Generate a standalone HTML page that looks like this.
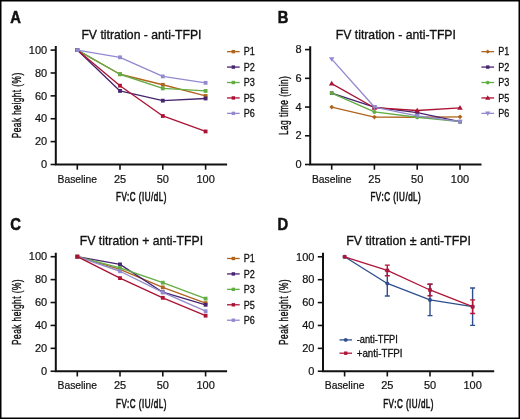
<!DOCTYPE html>
<html><head><meta charset="utf-8"><style>
html,body{margin:0;padding:0;background:#fff;}
svg{display:block;font-family:"Liberation Sans", sans-serif;will-change:transform;}
text{fill:#111;}
</style></head><body>
<svg width="520" height="420" viewBox="0 0 520 420">
<rect x="0" y="0" width="520" height="420" fill="#fff"/>
<rect x="0.75" y="0.75" width="518.5" height="417.5" fill="none" stroke="#000" stroke-width="1.5"/>
<text transform="translate(10.20,23.00) scale(0.94,1)" font-size="15.7" text-anchor="start" font-weight="bold" stroke="#111" stroke-width="0.5">A</text>
<text transform="translate(141.45,38.60) scale(0.94,1)" font-size="13" text-anchor="middle" font-weight="normal" stroke="#111" stroke-width="0.35">FV titration - anti-TFPI</text>
<path d="M55.8 46.1V165.5M54.8 164.5H227.1" stroke="#111" stroke-width="2.0" fill="none"/>
<path d="M50.60 164.50H55.8" stroke="#111" stroke-width="1.6"/>
<text x="47.20" y="168.20" font-size="11" text-anchor="end" font-weight="normal" stroke="#111" stroke-width="0.2">0</text>
<path d="M50.60 141.62H55.8" stroke="#111" stroke-width="1.6"/>
<text x="47.20" y="145.32" font-size="11" text-anchor="end" font-weight="normal" stroke="#111" stroke-width="0.2">20</text>
<path d="M50.60 118.74H55.8" stroke="#111" stroke-width="1.6"/>
<text x="47.20" y="122.44" font-size="11" text-anchor="end" font-weight="normal" stroke="#111" stroke-width="0.2">40</text>
<path d="M50.60 95.86H55.8" stroke="#111" stroke-width="1.6"/>
<text x="47.20" y="99.56" font-size="11" text-anchor="end" font-weight="normal" stroke="#111" stroke-width="0.2">60</text>
<path d="M50.60 72.98H55.8" stroke="#111" stroke-width="1.6"/>
<text x="47.20" y="76.68" font-size="11" text-anchor="end" font-weight="normal" stroke="#111" stroke-width="0.2">80</text>
<path d="M50.60 50.10H55.8" stroke="#111" stroke-width="1.6"/>
<text x="47.20" y="53.80" font-size="11" text-anchor="end" font-weight="normal" stroke="#111" stroke-width="0.2">100</text>
<path d="M77.30 164.5V169.70" stroke="#111" stroke-width="1.6"/>
<text transform="translate(77.30,182.50) scale(0.94,1)" font-size="11" text-anchor="middle" font-weight="normal" stroke="#111" stroke-width="0.2">Baseline</text>
<path d="M120.00 164.5V169.70" stroke="#111" stroke-width="1.6"/>
<text x="120.00" y="182.50" font-size="11" text-anchor="middle" font-weight="normal" stroke="#111" stroke-width="0.2">25</text>
<path d="M162.80 164.5V169.70" stroke="#111" stroke-width="1.6"/>
<text x="162.80" y="182.50" font-size="11" text-anchor="middle" font-weight="normal" stroke="#111" stroke-width="0.2">50</text>
<path d="M205.60 164.5V169.70" stroke="#111" stroke-width="1.6"/>
<text x="205.60" y="182.50" font-size="11" text-anchor="middle" font-weight="normal" stroke="#111" stroke-width="0.2">100</text>
<text transform="translate(141.45,200.50) scale(0.62,1)" font-size="13" letter-spacing="0.8" text-anchor="middle" stroke="#111" stroke-width="0.65">FV:C (IU/dL)</text>
<text transform="translate(21.00,105.30) rotate(-90) scale(0.64,1)" font-size="13" letter-spacing="0.7" text-anchor="middle" stroke="#111" stroke-width="0.4">Peak height (%)</text>
<polyline points="77.30,50.10 120.00,74.24 162.80,84.76 205.60,95.97" fill="none" stroke="#b0641e" stroke-width="1.35" stroke-linejoin="round"/>
<rect x="75.40" y="48.20" width="3.8" height="3.8" fill="#b0641e"/>
<rect x="118.10" y="72.34" width="3.8" height="3.8" fill="#b0641e"/>
<rect x="160.90" y="82.86" width="3.8" height="3.8" fill="#b0641e"/>
<rect x="203.70" y="94.07" width="3.8" height="3.8" fill="#b0641e"/>
<polyline points="77.30,50.10 120.00,90.94 162.80,100.66 205.60,98.49" fill="none" stroke="#46246e" stroke-width="1.35" stroke-linejoin="round"/>
<rect x="75.40" y="48.20" width="3.8" height="3.8" fill="#46246e"/>
<rect x="118.10" y="89.04" width="3.8" height="3.8" fill="#46246e"/>
<rect x="160.90" y="98.76" width="3.8" height="3.8" fill="#46246e"/>
<rect x="203.70" y="96.59" width="3.8" height="3.8" fill="#46246e"/>
<polyline points="77.30,50.10 120.00,74.24 162.80,88.42 205.60,90.94" fill="none" stroke="#62ae44" stroke-width="1.35" stroke-linejoin="round"/>
<rect x="75.40" y="48.20" width="3.8" height="3.8" fill="#62ae44"/>
<rect x="118.10" y="72.34" width="3.8" height="3.8" fill="#62ae44"/>
<rect x="160.90" y="86.52" width="3.8" height="3.8" fill="#62ae44"/>
<rect x="203.70" y="89.04" width="3.8" height="3.8" fill="#62ae44"/>
<polyline points="77.30,50.10 120.00,85.68 162.80,115.99 205.60,131.44" fill="none" stroke="#ab1335" stroke-width="1.35" stroke-linejoin="round"/>
<rect x="75.40" y="48.20" width="3.8" height="3.8" fill="#ab1335"/>
<rect x="118.10" y="83.78" width="3.8" height="3.8" fill="#ab1335"/>
<rect x="160.90" y="114.09" width="3.8" height="3.8" fill="#ab1335"/>
<rect x="203.70" y="129.54" width="3.8" height="3.8" fill="#ab1335"/>
<polyline points="77.30,50.10 120.00,57.31 162.80,76.41 205.60,82.82" fill="none" stroke="#928acf" stroke-width="1.35" stroke-linejoin="round"/>
<rect x="75.40" y="48.20" width="3.8" height="3.8" fill="#928acf"/>
<rect x="118.10" y="55.41" width="3.8" height="3.8" fill="#928acf"/>
<rect x="160.90" y="74.51" width="3.8" height="3.8" fill="#928acf"/>
<rect x="203.70" y="80.92" width="3.8" height="3.8" fill="#928acf"/>
<path d="M227 51.65H239.7" stroke="#b0641e" stroke-width="1.3"/>
<rect x="231.65" y="49.95" width="3.4" height="3.4" fill="#b0641e"/>
<text transform="translate(243.80,55.45) scale(0.88,1)" font-size="10.3" text-anchor="start" font-weight="normal" stroke="#111" stroke-width="0.3">P1</text>
<path d="M227 67.08H239.7" stroke="#46246e" stroke-width="1.3"/>
<rect x="231.65" y="65.38" width="3.4" height="3.4" fill="#46246e"/>
<text transform="translate(243.80,70.88) scale(0.88,1)" font-size="10.3" text-anchor="start" font-weight="normal" stroke="#111" stroke-width="0.3">P2</text>
<path d="M227 82.51H239.7" stroke="#62ae44" stroke-width="1.3"/>
<rect x="231.65" y="80.81" width="3.4" height="3.4" fill="#62ae44"/>
<text transform="translate(243.80,86.31) scale(0.88,1)" font-size="10.3" text-anchor="start" font-weight="normal" stroke="#111" stroke-width="0.3">P3</text>
<path d="M227 97.94H239.7" stroke="#ab1335" stroke-width="1.3"/>
<rect x="231.65" y="96.24" width="3.4" height="3.4" fill="#ab1335"/>
<text transform="translate(243.80,101.74) scale(0.88,1)" font-size="10.3" text-anchor="start" font-weight="normal" stroke="#111" stroke-width="0.3">P5</text>
<path d="M227 113.37H239.7" stroke="#928acf" stroke-width="1.3"/>
<rect x="231.65" y="111.67" width="3.4" height="3.4" fill="#928acf"/>
<text transform="translate(243.80,117.17) scale(0.88,1)" font-size="10.3" text-anchor="start" font-weight="normal" stroke="#111" stroke-width="0.3">P6</text>
<text transform="translate(277.70,23.20) scale(0.94,1)" font-size="15.7" text-anchor="start" font-weight="bold" stroke="#111" stroke-width="0.5">B</text>
<text transform="translate(395.85,38.60) scale(0.94,1)" font-size="13" text-anchor="middle" font-weight="normal" stroke="#111" stroke-width="0.35">FV titration - anti-TFPI</text>
<path d="M310.2 46.25V165.5M309.2 164.5H481.5" stroke="#111" stroke-width="2.0" fill="none"/>
<path d="M305.00 164.50H310.2" stroke="#111" stroke-width="1.6"/>
<text x="301.60" y="168.20" font-size="11" text-anchor="end" font-weight="normal" stroke="#111" stroke-width="0.2">0</text>
<path d="M305.00 135.78H310.2" stroke="#111" stroke-width="1.6"/>
<text x="301.60" y="139.47" font-size="11" text-anchor="end" font-weight="normal" stroke="#111" stroke-width="0.2">2</text>
<path d="M305.00 107.05H310.2" stroke="#111" stroke-width="1.6"/>
<text x="301.60" y="110.75" font-size="11" text-anchor="end" font-weight="normal" stroke="#111" stroke-width="0.2">4</text>
<path d="M305.00 78.32H310.2" stroke="#111" stroke-width="1.6"/>
<text x="301.60" y="82.02" font-size="11" text-anchor="end" font-weight="normal" stroke="#111" stroke-width="0.2">6</text>
<path d="M305.00 49.60H310.2" stroke="#111" stroke-width="1.6"/>
<text x="301.60" y="53.30" font-size="11" text-anchor="end" font-weight="normal" stroke="#111" stroke-width="0.2">8</text>
<path d="M331.70 164.5V169.70" stroke="#111" stroke-width="1.6"/>
<text transform="translate(331.70,182.50) scale(0.94,1)" font-size="11" text-anchor="middle" font-weight="normal" stroke="#111" stroke-width="0.2">Baseline</text>
<path d="M374.40 164.5V169.70" stroke="#111" stroke-width="1.6"/>
<text x="374.40" y="182.50" font-size="11" text-anchor="middle" font-weight="normal" stroke="#111" stroke-width="0.2">25</text>
<path d="M417.20 164.5V169.70" stroke="#111" stroke-width="1.6"/>
<text x="417.20" y="182.50" font-size="11" text-anchor="middle" font-weight="normal" stroke="#111" stroke-width="0.2">50</text>
<path d="M460.00 164.5V169.70" stroke="#111" stroke-width="1.6"/>
<text x="460.00" y="182.50" font-size="11" text-anchor="middle" font-weight="normal" stroke="#111" stroke-width="0.2">100</text>
<text transform="translate(395.85,200.50) scale(0.62,1)" font-size="13" letter-spacing="0.8" text-anchor="middle" stroke="#111" stroke-width="0.65">FV:C (IU/dL)</text>
<text transform="translate(288.00,105.38) rotate(-90) scale(0.64,1)" font-size="13" letter-spacing="0.7" text-anchor="middle" stroke="#111" stroke-width="0.4">Lag time (min)</text>
<polyline points="331.70,107.05 374.40,117.10 417.20,117.25 460.00,116.82" fill="none" stroke="#b0641e" stroke-width="1.35" stroke-linejoin="round"/>
<path d="M331.70 104.71L334.04 107.05L331.70 109.39L329.36 107.05Z" fill="#b0641e"/>
<path d="M374.40 114.76L376.74 117.10L374.40 119.44L372.06 117.10Z" fill="#b0641e"/>
<path d="M417.20 114.91L419.54 117.25L417.20 119.59L414.86 117.25Z" fill="#b0641e"/>
<path d="M460.00 114.48L462.34 116.82L460.00 119.16L457.66 116.82Z" fill="#b0641e"/>
<polyline points="331.70,93.12 374.40,107.05 417.20,112.65 460.00,121.70" fill="none" stroke="#46246e" stroke-width="1.35" stroke-linejoin="round"/>
<rect x="329.90" y="91.32" width="3.6" height="3.6" fill="#46246e"/>
<rect x="372.60" y="105.25" width="3.6" height="3.6" fill="#46246e"/>
<rect x="415.40" y="110.85" width="3.6" height="3.6" fill="#46246e"/>
<rect x="458.20" y="119.90" width="3.6" height="3.6" fill="#46246e"/>
<polyline points="331.70,93.12 374.40,111.93 417.20,117.25 460.00,121.70" fill="none" stroke="#62ae44" stroke-width="1.35" stroke-linejoin="round"/>
<circle cx="331.70" cy="93.12" r="1.98" fill="#62ae44"/>
<circle cx="374.40" cy="111.93" r="1.98" fill="#62ae44"/>
<circle cx="417.20" cy="117.25" r="1.98" fill="#62ae44"/>
<circle cx="460.00" cy="121.70" r="1.98" fill="#62ae44"/>
<polyline points="331.70,83.64 374.40,107.77 417.20,110.50 460.00,107.91" fill="none" stroke="#ab1335" stroke-width="1.35" stroke-linejoin="round"/>
<path d="M331.70 80.85L334.49 85.59L328.91 85.59Z" fill="#ab1335"/>
<path d="M374.40 104.98L377.19 109.72L371.61 109.72Z" fill="#ab1335"/>
<path d="M417.20 107.71L419.99 112.45L414.41 112.45Z" fill="#ab1335"/>
<path d="M460.00 105.12L462.79 109.86L457.21 109.86Z" fill="#ab1335"/>
<polyline points="331.70,59.08 374.40,107.05 417.20,115.81 460.00,121.70" fill="none" stroke="#928acf" stroke-width="1.35" stroke-linejoin="round"/>
<path d="M331.70 61.87L334.49 57.13L328.91 57.13Z" fill="#928acf"/>
<path d="M374.40 109.84L377.19 105.10L371.61 105.10Z" fill="#928acf"/>
<path d="M417.20 118.60L419.99 113.86L414.41 113.86Z" fill="#928acf"/>
<path d="M460.00 124.49L462.79 119.75L457.21 119.75Z" fill="#928acf"/>
<path d="M481.4 51.65H494.1" stroke="#b0641e" stroke-width="1.3"/>
<path d="M487.75 49.44L489.96 51.65L487.75 53.86L485.54 51.65Z" fill="#b0641e"/>
<text transform="translate(498.20,55.45) scale(0.88,1)" font-size="10.3" text-anchor="start" font-weight="normal" stroke="#111" stroke-width="0.3">P1</text>
<path d="M481.4 67.08H494.1" stroke="#46246e" stroke-width="1.3"/>
<rect x="486.05" y="65.38" width="3.4" height="3.4" fill="#46246e"/>
<text transform="translate(498.20,70.88) scale(0.88,1)" font-size="10.3" text-anchor="start" font-weight="normal" stroke="#111" stroke-width="0.3">P2</text>
<path d="M481.4 82.51H494.1" stroke="#62ae44" stroke-width="1.3"/>
<circle cx="487.75" cy="82.51" r="1.87" fill="#62ae44"/>
<text transform="translate(498.20,86.31) scale(0.88,1)" font-size="10.3" text-anchor="start" font-weight="normal" stroke="#111" stroke-width="0.3">P3</text>
<path d="M481.4 97.94H494.1" stroke="#ab1335" stroke-width="1.3"/>
<path d="M487.75 95.30L490.38 99.78L485.12 99.78Z" fill="#ab1335"/>
<text transform="translate(498.20,101.74) scale(0.88,1)" font-size="10.3" text-anchor="start" font-weight="normal" stroke="#111" stroke-width="0.3">P5</text>
<path d="M481.4 113.37H494.1" stroke="#928acf" stroke-width="1.3"/>
<path d="M487.75 116.01L490.38 111.53L485.12 111.53Z" fill="#928acf"/>
<text transform="translate(498.20,117.17) scale(0.88,1)" font-size="10.3" text-anchor="start" font-weight="normal" stroke="#111" stroke-width="0.3">P6</text>
<text transform="translate(10.20,230.00) scale(0.94,1)" font-size="15.7" text-anchor="start" font-weight="bold" stroke="#111" stroke-width="0.5">C</text>
<text transform="translate(141.45,245.40) scale(0.94,1)" font-size="13" text-anchor="middle" font-weight="normal" stroke="#111" stroke-width="0.35">FV titration + anti-TFPI</text>
<path d="M55.8 252.7V372.25M54.8 371.25H227.1" stroke="#111" stroke-width="2.0" fill="none"/>
<path d="M50.60 371.25H55.8" stroke="#111" stroke-width="1.6"/>
<text x="47.20" y="374.95" font-size="11" text-anchor="end" font-weight="normal" stroke="#111" stroke-width="0.2">0</text>
<path d="M50.60 348.34H55.8" stroke="#111" stroke-width="1.6"/>
<text x="47.20" y="352.04" font-size="11" text-anchor="end" font-weight="normal" stroke="#111" stroke-width="0.2">20</text>
<path d="M50.60 325.43H55.8" stroke="#111" stroke-width="1.6"/>
<text x="47.20" y="329.13" font-size="11" text-anchor="end" font-weight="normal" stroke="#111" stroke-width="0.2">40</text>
<path d="M50.60 302.52H55.8" stroke="#111" stroke-width="1.6"/>
<text x="47.20" y="306.22" font-size="11" text-anchor="end" font-weight="normal" stroke="#111" stroke-width="0.2">60</text>
<path d="M50.60 279.61H55.8" stroke="#111" stroke-width="1.6"/>
<text x="47.20" y="283.31" font-size="11" text-anchor="end" font-weight="normal" stroke="#111" stroke-width="0.2">80</text>
<path d="M50.60 256.70H55.8" stroke="#111" stroke-width="1.6"/>
<text x="47.20" y="260.40" font-size="11" text-anchor="end" font-weight="normal" stroke="#111" stroke-width="0.2">100</text>
<path d="M77.30 371.25V376.45" stroke="#111" stroke-width="1.6"/>
<text transform="translate(77.30,389.25) scale(0.94,1)" font-size="11" text-anchor="middle" font-weight="normal" stroke="#111" stroke-width="0.2">Baseline</text>
<path d="M120.00 371.25V376.45" stroke="#111" stroke-width="1.6"/>
<text x="120.00" y="389.25" font-size="11" text-anchor="middle" font-weight="normal" stroke="#111" stroke-width="0.2">25</text>
<path d="M162.80 371.25V376.45" stroke="#111" stroke-width="1.6"/>
<text x="162.80" y="389.25" font-size="11" text-anchor="middle" font-weight="normal" stroke="#111" stroke-width="0.2">50</text>
<path d="M205.60 371.25V376.45" stroke="#111" stroke-width="1.6"/>
<text x="205.60" y="389.25" font-size="11" text-anchor="middle" font-weight="normal" stroke="#111" stroke-width="0.2">100</text>
<text transform="translate(141.45,407.50) scale(0.62,1)" font-size="13" letter-spacing="0.8" text-anchor="middle" stroke="#111" stroke-width="0.65">FV:C (IU/dL)</text>
<text transform="translate(21.00,311.98) rotate(-90) scale(0.64,1)" font-size="13" letter-spacing="0.7" text-anchor="middle" stroke="#111" stroke-width="0.4">Peak height (%)</text>
<polyline points="77.30,256.70 120.00,269.42 162.80,287.40 205.60,303.09" fill="none" stroke="#b0641e" stroke-width="1.35" stroke-linejoin="round"/>
<rect x="75.40" y="254.80" width="3.8" height="3.8" fill="#b0641e"/>
<rect x="118.10" y="267.52" width="3.8" height="3.8" fill="#b0641e"/>
<rect x="160.90" y="285.50" width="3.8" height="3.8" fill="#b0641e"/>
<rect x="203.70" y="301.19" width="3.8" height="3.8" fill="#b0641e"/>
<polyline points="77.30,256.70 120.00,264.37 162.80,292.21 205.60,304.81" fill="none" stroke="#46246e" stroke-width="1.35" stroke-linejoin="round"/>
<rect x="75.40" y="254.80" width="3.8" height="3.8" fill="#46246e"/>
<rect x="118.10" y="262.47" width="3.8" height="3.8" fill="#46246e"/>
<rect x="160.90" y="290.31" width="3.8" height="3.8" fill="#46246e"/>
<rect x="203.70" y="302.91" width="3.8" height="3.8" fill="#46246e"/>
<polyline points="77.30,256.70 120.00,267.81 162.80,282.70 205.60,298.63" fill="none" stroke="#62ae44" stroke-width="1.35" stroke-linejoin="round"/>
<rect x="75.40" y="254.80" width="3.8" height="3.8" fill="#62ae44"/>
<rect x="118.10" y="265.91" width="3.8" height="3.8" fill="#62ae44"/>
<rect x="160.90" y="280.80" width="3.8" height="3.8" fill="#62ae44"/>
<rect x="203.70" y="296.73" width="3.8" height="3.8" fill="#62ae44"/>
<polyline points="77.30,256.70 120.00,271.25 162.80,292.44 205.60,311.23" fill="none" stroke="#928acf" stroke-width="1.35" stroke-linejoin="round"/>
<rect x="75.40" y="254.80" width="3.8" height="3.8" fill="#928acf"/>
<rect x="118.10" y="269.35" width="3.8" height="3.8" fill="#928acf"/>
<rect x="160.90" y="290.54" width="3.8" height="3.8" fill="#928acf"/>
<rect x="203.70" y="309.33" width="3.8" height="3.8" fill="#928acf"/>
<polyline points="77.30,256.70 120.00,278.12 162.80,297.82 205.60,315.69" fill="none" stroke="#ab1335" stroke-width="1.35" stroke-linejoin="round"/>
<rect x="75.40" y="254.80" width="3.8" height="3.8" fill="#ab1335"/>
<rect x="118.10" y="276.22" width="3.8" height="3.8" fill="#ab1335"/>
<rect x="160.90" y="295.92" width="3.8" height="3.8" fill="#ab1335"/>
<rect x="203.70" y="313.79" width="3.8" height="3.8" fill="#ab1335"/>
<path d="M227 258.50H239.7" stroke="#b0641e" stroke-width="1.3"/>
<rect x="231.65" y="256.80" width="3.4" height="3.4" fill="#b0641e"/>
<text transform="translate(243.80,262.30) scale(0.88,1)" font-size="10.3" text-anchor="start" font-weight="normal" stroke="#111" stroke-width="0.3">P1</text>
<path d="M227 273.93H239.7" stroke="#46246e" stroke-width="1.3"/>
<rect x="231.65" y="272.23" width="3.4" height="3.4" fill="#46246e"/>
<text transform="translate(243.80,277.73) scale(0.88,1)" font-size="10.3" text-anchor="start" font-weight="normal" stroke="#111" stroke-width="0.3">P2</text>
<path d="M227 289.36H239.7" stroke="#62ae44" stroke-width="1.3"/>
<rect x="231.65" y="287.66" width="3.4" height="3.4" fill="#62ae44"/>
<text transform="translate(243.80,293.16) scale(0.88,1)" font-size="10.3" text-anchor="start" font-weight="normal" stroke="#111" stroke-width="0.3">P3</text>
<path d="M227 304.79H239.7" stroke="#ab1335" stroke-width="1.3"/>
<rect x="231.65" y="303.09" width="3.4" height="3.4" fill="#ab1335"/>
<text transform="translate(243.80,308.59) scale(0.88,1)" font-size="10.3" text-anchor="start" font-weight="normal" stroke="#111" stroke-width="0.3">P5</text>
<path d="M227 320.22H239.7" stroke="#928acf" stroke-width="1.3"/>
<rect x="231.65" y="318.52" width="3.4" height="3.4" fill="#928acf"/>
<text transform="translate(243.80,324.02) scale(0.88,1)" font-size="10.3" text-anchor="start" font-weight="normal" stroke="#111" stroke-width="0.3">P6</text>
<text transform="translate(277.40,230.00) scale(0.94,1)" font-size="15.7" text-anchor="start" font-weight="bold" stroke="#111" stroke-width="0.5">D</text>
<text transform="translate(408.60,245.40) scale(0.955,1)" font-size="13" text-anchor="middle" font-weight="normal" stroke="#111" stroke-width="0.35">FV titration ± anti-TFPI</text>
<path d="M323.0 252.7V372.25M322.0 371.25H494.2" stroke="#111" stroke-width="2.0" fill="none"/>
<path d="M317.80 371.25H323.0" stroke="#111" stroke-width="1.6"/>
<text x="314.40" y="374.95" font-size="11" text-anchor="end" font-weight="normal" stroke="#111" stroke-width="0.2">0</text>
<path d="M317.80 348.36H323.0" stroke="#111" stroke-width="1.6"/>
<text x="314.40" y="352.06" font-size="11" text-anchor="end" font-weight="normal" stroke="#111" stroke-width="0.2">20</text>
<path d="M317.80 325.47H323.0" stroke="#111" stroke-width="1.6"/>
<text x="314.40" y="329.17" font-size="11" text-anchor="end" font-weight="normal" stroke="#111" stroke-width="0.2">40</text>
<path d="M317.80 302.58H323.0" stroke="#111" stroke-width="1.6"/>
<text x="314.40" y="306.28" font-size="11" text-anchor="end" font-weight="normal" stroke="#111" stroke-width="0.2">60</text>
<path d="M317.80 279.69H323.0" stroke="#111" stroke-width="1.6"/>
<text x="314.40" y="283.39" font-size="11" text-anchor="end" font-weight="normal" stroke="#111" stroke-width="0.2">80</text>
<path d="M317.80 256.80H323.0" stroke="#111" stroke-width="1.6"/>
<text x="314.40" y="260.50" font-size="11" text-anchor="end" font-weight="normal" stroke="#111" stroke-width="0.2">100</text>
<path d="M344.60 371.25V376.45" stroke="#111" stroke-width="1.6"/>
<text transform="translate(344.60,389.25) scale(0.94,1)" font-size="11" text-anchor="middle" font-weight="normal" stroke="#111" stroke-width="0.2">Baseline</text>
<path d="M387.30 371.25V376.45" stroke="#111" stroke-width="1.6"/>
<text x="387.30" y="389.25" font-size="11" text-anchor="middle" font-weight="normal" stroke="#111" stroke-width="0.2">25</text>
<path d="M430.00 371.25V376.45" stroke="#111" stroke-width="1.6"/>
<text x="430.00" y="389.25" font-size="11" text-anchor="middle" font-weight="normal" stroke="#111" stroke-width="0.2">50</text>
<path d="M472.60 371.25V376.45" stroke="#111" stroke-width="1.6"/>
<text x="472.60" y="389.25" font-size="11" text-anchor="middle" font-weight="normal" stroke="#111" stroke-width="0.2">100</text>
<text transform="translate(408.60,407.50) scale(0.62,1)" font-size="13" letter-spacing="0.8" text-anchor="middle" stroke="#111" stroke-width="0.65">FV:C (IU/dL)</text>
<text transform="translate(288.40,311.98) rotate(-90) scale(0.64,1)" font-size="13" letter-spacing="0.7" text-anchor="middle" stroke="#111" stroke-width="0.4">Peak height (%)</text>
<path d="M387.30 270.88V296.06M384.80 270.88H389.80M384.80 296.06H389.80" stroke="#2e4e8e" stroke-width="1.4" fill="none"/>
<path d="M430.00 284.27V315.63M427.50 284.27H432.50M427.50 315.63H432.50" stroke="#2e4e8e" stroke-width="1.4" fill="none"/>
<path d="M472.60 288.04V325.36M470.10 288.04H475.10M470.10 325.36H475.10" stroke="#2e4e8e" stroke-width="1.4" fill="none"/>
<polyline points="344.60,256.80 387.30,283.47 430.00,299.95 472.60,306.70" fill="none" stroke="#2e4e8e" stroke-width="1.35" stroke-linejoin="round"/>
<circle cx="344.60" cy="256.80" r="1.98" fill="#2e4e8e"/>
<circle cx="387.30" cy="283.47" r="1.98" fill="#2e4e8e"/>
<circle cx="430.00" cy="299.95" r="1.98" fill="#2e4e8e"/>
<circle cx="472.60" cy="306.70" r="1.98" fill="#2e4e8e"/>
<path d="M387.30 265.15V275.68M384.80 265.15H389.80M384.80 275.68H389.80" stroke="#ae1538" stroke-width="1.4" fill="none"/>
<path d="M430.00 284.27V295.71M427.50 284.27H432.50M427.50 295.71H432.50" stroke="#ae1538" stroke-width="1.4" fill="none"/>
<path d="M472.60 299.83V313.57M470.10 299.83H475.10M470.10 313.57H475.10" stroke="#ae1538" stroke-width="1.4" fill="none"/>
<polyline points="344.60,256.80 387.30,270.42 430.00,289.99 472.60,306.70" fill="none" stroke="#ae1538" stroke-width="1.35" stroke-linejoin="round"/>
<rect x="342.80" y="255.00" width="3.6" height="3.6" fill="#ae1538"/>
<rect x="385.50" y="268.62" width="3.6" height="3.6" fill="#ae1538"/>
<rect x="428.20" y="288.19" width="3.6" height="3.6" fill="#ae1538"/>
<rect x="470.80" y="304.90" width="3.6" height="3.6" fill="#ae1538"/>
<path d="M339.5 339.90H352" stroke="#2e4e8e" stroke-width="1.3"/>
<circle cx="345.75" cy="339.90" r="1.87" fill="#2e4e8e"/>
<text transform="translate(356.70,343.30) scale(0.9,1)" font-size="10.3" text-anchor="start" font-weight="normal" stroke="#111" stroke-width="0.3">-anti-TFPI</text>
<path d="M339.5 353.20H352" stroke="#ae1538" stroke-width="1.3"/>
<rect x="344.05" y="351.50" width="3.4" height="3.4" fill="#ae1538"/>
<text transform="translate(356.70,356.60) scale(0.95,1)" font-size="10.3" text-anchor="start" font-weight="normal" stroke="#111" stroke-width="0.3">+anti-TFPI</text>
</svg></body></html>
